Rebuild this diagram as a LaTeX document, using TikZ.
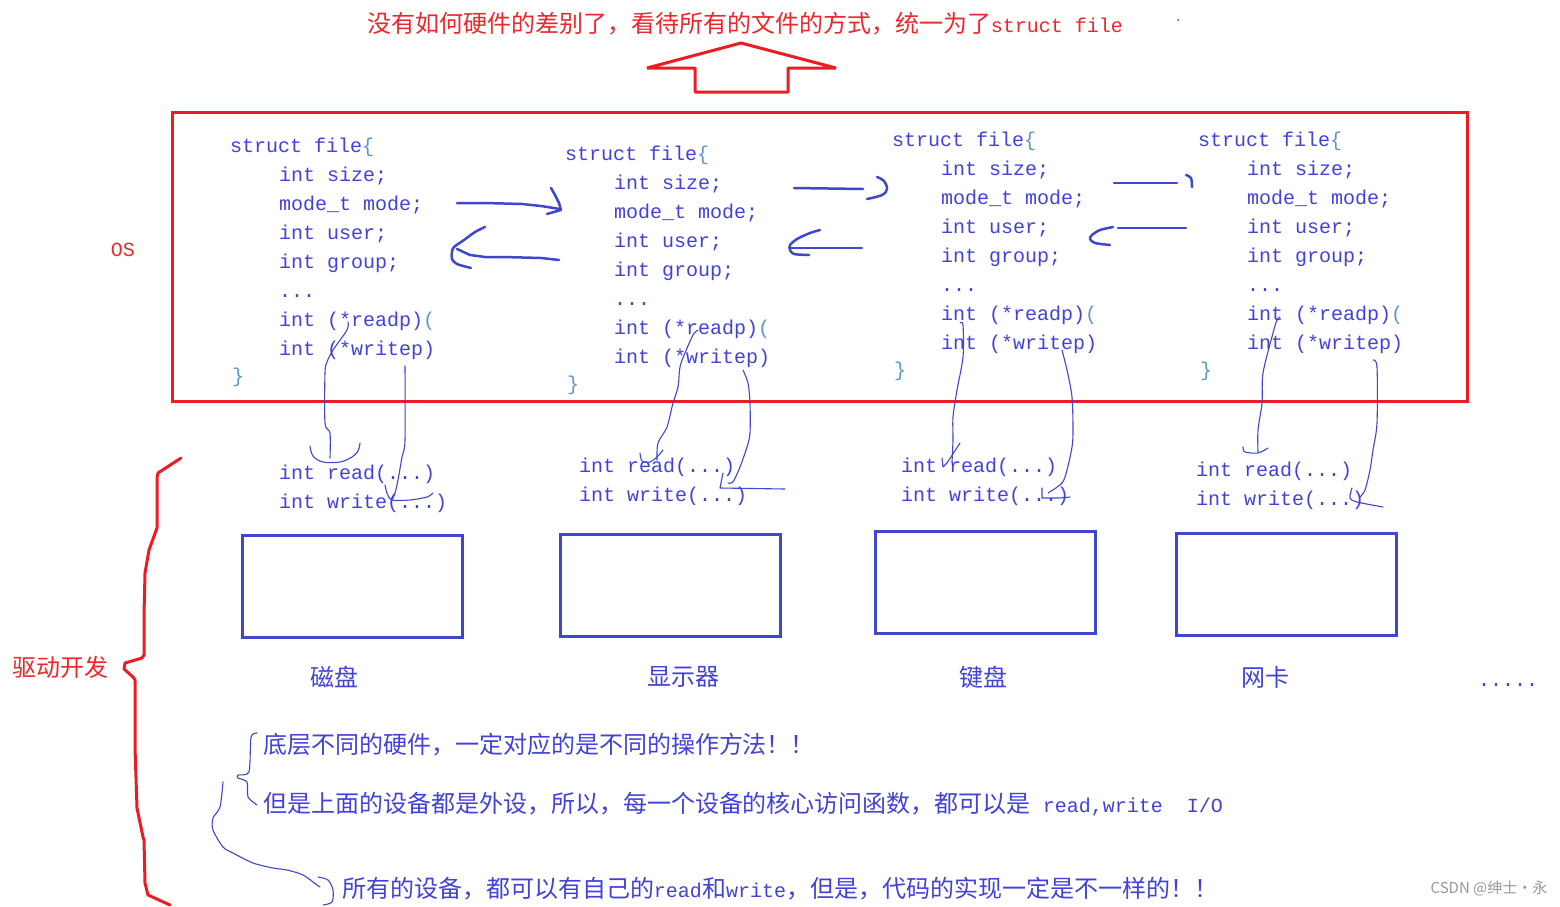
\documentclass[tikz,border=0pt]{standalone}
\usepackage{fontspec}
\newfontfamily\cjkf{Noto Sans CJK SC}
\newfontfamily\codef{Liberation Mono}
\definecolor{ink}{RGB}{66,66,218}
\definecolor{inklt}{RGB}{90,150,200}
\definecolor{redl}{RGB}{237,28,36}
\definecolor{redt}{RGB}{236,40,44}
\definecolor{pen}{RGB}{63,72,204}
\newcommand\zh[1]{{\cjkf\fontsize{12}{14}\selectfont #1}}
\newcommand\cd[1]{{\codef\fontsize{10}{12}\selectfont #1}}
\tikzset{
  txt/.style={inner sep=0pt, outer sep=0pt, anchor=base west, text=ink},
  codet/.style={txt, font=\codef\fontsize{10}{12}\selectfont},
  zht/.style={inner sep=0pt, outer sep=0pt, text=ink, font=\cjkf\fontsize{12}{14}\selectfont},
  redbox/.style={draw=redl, line width=1.5pt},
  devbox/.style={draw=pen, line width=1.5pt},
  thickpen/.style={draw=pen, line width=1.25pt, line cap=round, line join=round},
  thinpen/.style={draw=pen, line width=0.55pt, line cap=round, line join=round},
}
\newcommand\sblock[3]{%
  \node[codet] (#1-h) at (#2,#3+7) {struct file\textcolor{inklt}{\{}};
  \node[codet] (#1-size) at (#2+49,#3+36) {int size;};
  \node[codet] (#1-mode) at (#2+49,#3+65) {mode\_t mode;};
  \node[codet] (#1-user) at (#2+49,#3+94) {int user;};
  \node[codet] (#1-group) at (#2+49,#3+123) {int group;};
  \node[codet] (#1-dots) at (#2+49,#3+152) {...};
  \node[codet] (#1-rp) at (#2+49,#3+181) {int (*readp)\textcolor{inklt}{(}};
  \node[codet] (#1-wp) at (#2+49,#3+210) {int (*writep)};
  \node[codet] (#1-e) at (#2+2,#3+237) {\textcolor{inklt}{\}}};
}
\begin{document}
\begin{tikzpicture}[x=0.5pt, y=-0.5pt]
\fill[white] (0,0) rectangle (1560,906);
\useasboundingbox (0,0) rectangle (1560,906);

% title and big arrow
\node[txt, text=redt] (title) at (367,32) {\zh{没有如何硬件的差别了，看待所有的文件的方式，统一为了}\cd{struct file}};
\fill[black!70] (1178,20) circle (1);
\draw[redl, line width=1.5pt, line join=bevel] (741,43) -- (836,68) -- (788,68) -- (788,92) -- (695,92) -- (695,68) -- (647,68) -- cycle;

% OS box
\draw[redbox] (172,112) rectangle (1467,401);
\node[codet, text=redt, anchor=center] (os) at (123,250) {OS};

% struct blocks
\sblock{b1}{230}{145}
\sblock{b2}{565}{153}
\sblock{b3}{892}{139}
\sblock{b4}{1198}{139}

% arrows between structs
\draw[thickpen] (457,203) -- (485,203) -- (522,204) -- (541,206) -- (560,209);
\draw[thickpen] (551,188) -- (555,195) -- (559,203) -- (561,210) -- (547,214);
\draw[thickpen] (559,260) -- (541,258) -- (503,257) -- (485,257) -- (470,255) -- (457,249);
\draw[thickpen] plot[smooth, tension=0.5] coordinates {(485,227) (475,232) (464,240) (454,247) (452,252) (452,259) (457,264) (471,268)};
\draw[thickpen] (794,188) -- (863,189);
\draw[thickpen] plot[smooth, tension=0.6] coordinates {(877,177) (884,181) (887,189) (882,195) (867,199)};
\draw[thickpen] (862,248) -- (790,248);
\draw[thickpen] plot[smooth, tension=0.5] coordinates {(820,230) (810,233) (797,239) (790,245) (790,250) (794,254) (809,255)};
\draw[thickpen] (1114,183) -- (1177,183);
\draw[thickpen] plot[smooth, tension=0.6] coordinates {(1186,175) (1191,178) (1192,187)};
\draw[thickpen] (1186,228) -- (1118,228);
\draw[thickpen] plot[smooth, tension=0.5] coordinates {(1113,227) (1100,230) (1092,235) (1090,239) (1095,243) (1110,245)};

% read / write functions
\node[codet] (r1) at (279,479) {int read(...)};
\node[codet] (w1) at (279,508) {int write(...)};
\node[codet] (r2) at (579,472) {int read(...)};
\node[codet] (w2) at (579,501) {int write(...)};
\node[codet] (r3) at (901,472) {int read(...)};
\node[codet] (w3) at (901,501) {int write(...)};
\node[codet] (r4) at (1196,476) {int read(...)};
\node[codet] (w4) at (1196,505) {int write(...)};

% hand-drawn links from pointers to functions
\draw[thinpen] plot[smooth, tension=0.5] coordinates {(348,322) (347,330) (333,350) (327,362) (325,373) (325,423) (330,433) (330,458)};
\draw[thinpen] plot[smooth, tension=0.6] coordinates {(310,446) (313,456) (323,462) (340,462) (352,457) (358,451) (360,443)};
\draw[thinpen] plot[smooth, tension=0.5] coordinates {(405,366) (405,440) (402,457) (398,480) (395,493) (392,500)};
\draw[thinpen] plot[smooth, tension=0.5] coordinates {(385,485) (387,493) (392,500) (410,500) (427,497) (433,493)};
\draw[thinpen] plot[smooth, tension=0.5] coordinates {(698,330) (693,335) (685,353) (680,367) (678,387) (673,403) (667,427) (658,443) (657,460)};
\draw[thinpen] plot[smooth, tension=0.5] coordinates {(640,453) (642,461) (650,462) (657,457) (663,450)};
\draw[thinpen] plot[smooth, tension=0.5] coordinates {(743,370) (748,383) (750,403) (750,433) (747,447) (740,467) (733,482) (728,483)};
\draw[thinpen] (723,473) -- (720,488) -- (785,489);
\draw[thinpen] plot[smooth, tension=0.5] coordinates {(960,323) (963,325) (963,357) (957,390) (953,417) (953,440) (952,462)};
\draw[thinpen] (942,458) -- (943,467) -- (947,463) -- (960,443);
\draw[thinpen] plot[smooth, tension=0.5] coordinates {(1062,350) (1067,370) (1072,397) (1073,430) (1072,447) (1067,470) (1062,483) (1048,493)};
\draw[thinpen] (1042,488) -- (1042,498) -- (1060,498) -- (1070,497);
\draw[thinpen] plot[smooth, tension=0.5] coordinates {(1280,317) (1277,320) (1273,333) (1263,373) (1262,403) (1258,430) (1258,452)};
\draw[thinpen] plot[smooth, tension=0.5] coordinates {(1243,447) (1245,452) (1258,453) (1268,448)};
\draw[thinpen] plot[smooth, tension=0.5] coordinates {(1373,360) (1377,367) (1377,423) (1373,450) (1370,470) (1365,490) (1360,497)};
\draw[thinpen] plot[smooth, tension=0.5] coordinates {(1352,488) (1350,498) (1357,502) (1383,507)};

% devices
\draw[devbox] (242,535) rectangle (462,637);
\draw[devbox] (560,534) rectangle (780,636);
\draw[devbox] (875,531) rectangle (1095,633);
\draw[devbox] (1176,533) rectangle (1396,635);
\node[zht] (d1) at (334,677) {磁盘};
\node[zht] (d2) at (683,677) {显示器};
\node[zht] (d3) at (983,677) {键盘};
\node[zht] (d4) at (1265,677) {网卡};
\node[codet] (more) at (1478,686) {.....};

% driver development brace
\draw[redl, line width=1.5pt, line join=round, line cap=round] (181,458) -- (158,473) -- (157,478) -- (157,528) -- (149,550) -- (145,573) -- (144,615) -- (144,655) -- (142,658) -- (125,663) -- (124,669) -- (133,677) -- (135,680) -- (135,747) -- (137,808) -- (143,837) -- (144,840) -- (145,883) -- (148,895) -- (170,905);
\node[zht, text=redt] (drv) at (60,667) {驱动开发};

% notes
\draw[thinpen] plot[smooth, tension=0.4] coordinates {(257,733) (251,737) (249,772) (238,775) (238,778) (247,782) (248,797) (257,805)};
\node[txt] (n1) at (263,753) {\zh{底层不同的硬件，一定对应的是不同的操作方法！！}};
\node[txt] (n2) at (263,812) {\zh{但是上面的设备都是外设，所以，每一个设备的核心访问函数，都可以是}\cd{\ read,write\ \ I/O}};
\draw[thinpen] plot[smooth, tension=0.5] coordinates {(223,782) (220,807) (213,818) (213,830) (223,847) (233,853) (253,863) (273,868) (287,870) (303,875) (317,885) (320,887)};
\draw[thinpen] plot[smooth, tension=0.5] coordinates {(318,877) (328,880) (333,890) (332,902) (323,905)};
\node[txt] (n3) at (342,897) {\zh{所有的设备，都可以有自己的}\cd{read}\zh{和}\cd{write}\zh{，但是，代码的实现一定是不一样的！！}};

% watermark
\node[inner sep=0pt, text=black!40, font=\cjkf\fontsize{7.5}{9}\selectfont] (wm) at (1489,888) {CSDN @绅士·永};
\end{tikzpicture}
\end{document}
